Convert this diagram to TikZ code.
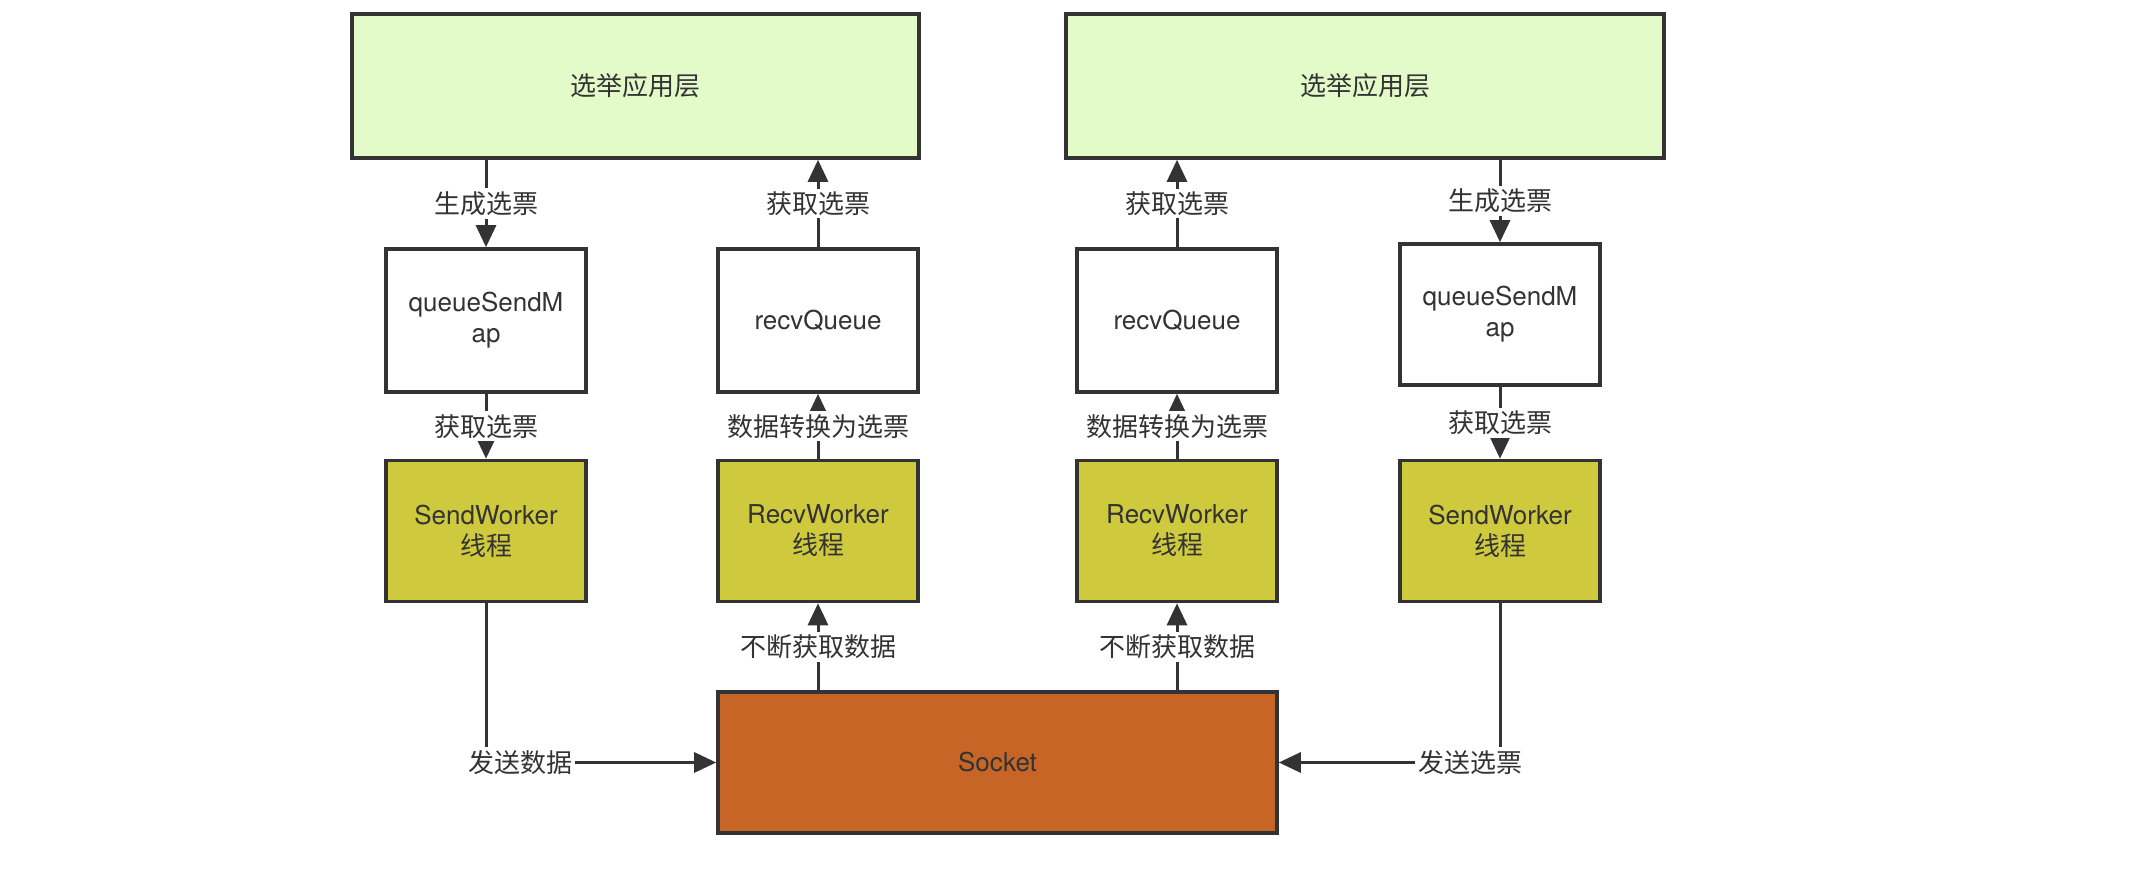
\documentclass[tikz,border=0pt]{standalone}
\usepackage{fontspec}
\setmainfont{TeX Gyre Heros}
\newfontfamily\cjk{Noto Sans CJK SC}
\usetikzlibrary{arrows.meta}
\definecolor{edgegray}{HTML}{333333}
\definecolor{appgreen}{HTML}{E3FBC9}
\definecolor{workeryellow}{HTML}{CFC93E}
\definecolor{sockorange}{HTML}{C76527}
\begin{document}
\begin{tikzpicture}[x=0.5pt,y=-0.5pt,
  every node/.style={font=\fontsize{13pt}{15.5pt}\selectfont, text=edgegray},
  boxbase/.style={draw=edgegray, line width=1.8pt, rectangle, inner sep=0pt, align=center,
     minimum width=100pt, minimum height=70.5pt},
  appbox/.style={boxbase, fill=appgreen, minimum height=72pt},
  queuebox/.style={boxbase, fill=white},
  workerbox/.style={boxbase, fill=workeryellow},
  sockbox/.style={boxbase, fill=sockorange, minimum width=279.5pt},
  arr/.style={draw=edgegray, line width=1.5pt, -{Triangle[length=11pt,width=10pt]}},
  lbl/.style={fill=white, inner sep=1.5pt, font=\cjk\fontsize{13pt}{15.5pt}\selectfont}
]
\useasboundingbox (0,0) rectangle (2148,876);

\node[appbox, minimum width=283.5pt] (topL) at (635.5,86) {\cjk 选举应用层};
\node[appbox, minimum width=299pt] (topR) at (1365,86) {\cjk 选举应用层};

\node[queuebox, minimum height=71.5pt] (qL) at (486,320.5) {queueSendM\\ap};
\node[queuebox, minimum height=71.5pt] (rqL) at (818,320.5) {recvQueue};
\node[queuebox, minimum height=71.5pt] (rqR) at (1177,320.5) {recvQueue};
\node[queuebox] (qR) at (1500,314.5) {queueSendM\\ap};

\node[workerbox] (swL) at (486,531) {SendWorker\\{\cjk 线程}};
\node[workerbox] (rwL) at (818,531) {RecvWorker\\{\cjk 线程}};
\node[workerbox] (rwR) at (1177,531) {RecvWorker\\{\cjk 线程}};
\node[workerbox] (swR) at (1500,531) {SendWorker\\{\cjk 线程}};

\node[sockbox] (sock) at (997.5,762.5) {Socket};

\draw[arr] (qL.north |- topL.south) -- node[lbl]{生成选票} (qL.north);
\draw[arr] (rqL.north) -- node[lbl]{获取选票} (rqL.north |- topL.south);
\draw[arr] (rqR.north) -- node[lbl]{获取选票} (rqR.north |- topR.south);
\draw[arr] (qR.north |- topR.south) -- node[lbl]{生成选票} (qR.north);

\draw[arr] (qL.south) -- node[lbl]{获取选票} (swL.north);
\draw[arr] (rwL.north) -- node[lbl]{数据转换为选票} (rqL.south);
\draw[arr] (rwR.north) -- node[lbl]{数据转换为选票} (rqR.south);
\draw[arr] (qR.south) -- node[lbl]{获取选票} (swR.north);

\draw[arr] (sock.north -| rwL.south) -- node[lbl]{不断获取数据} (rwL.south);
\draw[arr] (sock.north -| rwR.south) -- node[lbl]{不断获取数据} (rwR.south);

\draw[arr] (swL.south) |- node[lbl, pos=0.574]{发送数据} (sock.west);
\draw[arr] (swR.south) |- node[lbl, pos=0.567]{发送选票} (sock.east);
\end{tikzpicture}
\end{document}
